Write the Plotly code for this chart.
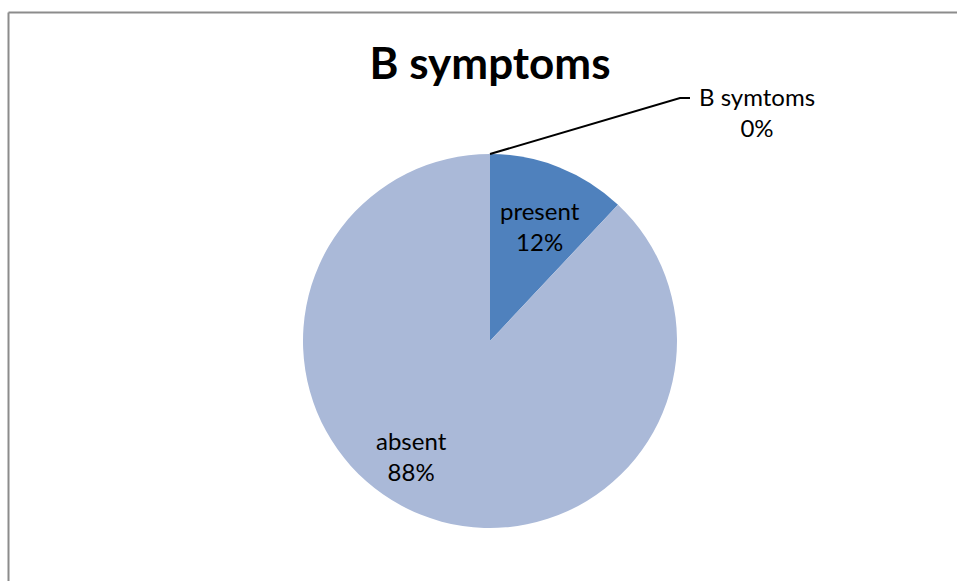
import plotly.graph_objects as go

# Data
labels = ["B symtoms", "present", "absent"]
values = [0, 12, 88]
colors = ["#4F81BD", "#4F81BD", "#AAB9D8"]
title_text = "B symptoms"

W, H = 957, 581
cx_px, cy_px, r_px = 490, 341, 187
cx, cy = cx_px / W, 1 - cy_px / H
dom_x = [cx - r_px / W, cx + r_px / W]
dom_y = [cy - r_px / H, cy + r_px / H]

font = "Lato, Open Sans, sans-serif"
lab_size = 24

fig = go.Figure(go.Pie(
    labels=labels, values=values, sort=False, direction="clockwise", rotation=0,
    marker=dict(colors=colors, line=dict(width=0)),
    textinfo="none",
    domain=dict(x=dom_x, y=dom_y), showlegend=False, hoverinfo="label+percent",
))

total = sum(values)
# Data-label placement (pixel anchors for each slice label)
label_pos = {"present": (540, 226), "absent": (411, 456)}
for lab, val in zip(labels, values):
    if lab in label_pos:
        px, py = label_pos[lab]
        fig.add_annotation(xref="paper", yref="paper", x=px / W, y=1 - py / H,
                           text=f"{lab}<br>{round(100 * val / total)}%", showarrow=False,
                           xanchor="center", yanchor="middle",
                           font=dict(family=font, size=lab_size, color="#000000"), align="center")

# Outer chart border (top and left visible)
bx, by = 8.5 / W, 1 - 12.5 / H
fig.add_shape(type="line", xref="paper", yref="paper", x0=bx, x1=1.01, y0=by, y1=by,
              line=dict(color="#8C8C8C", width=2))
fig.add_shape(type="line", xref="paper", yref="paper", x0=bx, x1=bx, y0=by, y1=-0.01,
              line=dict(color="#8C8C8C", width=2))

# Leader line for zero slice (from pie top to label)
top_x, top_y = cx, cy + r_px / H
elbow_x, elbow_y = 680 / W, 1 - 98 / H
end_x = 690 / W
fig.add_shape(type="path", xref="paper", yref="paper",
              path=f"M {top_x} {top_y} L {elbow_x} {elbow_y} L {end_x} {elbow_y}",
              line=dict(color="#000000", width=2))
fig.add_annotation(xref="paper", yref="paper", x=757 / W, y=1 - 112 / H,
                   text=f"{labels[0]}<br>{values[0]}%", showarrow=False,
                   xanchor="center", yanchor="middle",
                   font=dict(family=font, size=lab_size, color="#000000"), align="center")

fig.update_layout(
    width=W, height=H, margin=dict(l=0, r=0, t=0, b=0),
    paper_bgcolor="#FFFFFF", plot_bgcolor="#FFFFFF",
    title=dict(text=f"<b>{title_text}</b>", x=cx, xanchor="center",
               y=1 - 64 / H, yanchor="middle",
               font=dict(family=font, size=44, color="#000000")),
)

fig.write_html("out.html", config={"displayModeBar": False},
               post_script="document.body.style.margin='0';document.body.style.overflow='hidden';")
